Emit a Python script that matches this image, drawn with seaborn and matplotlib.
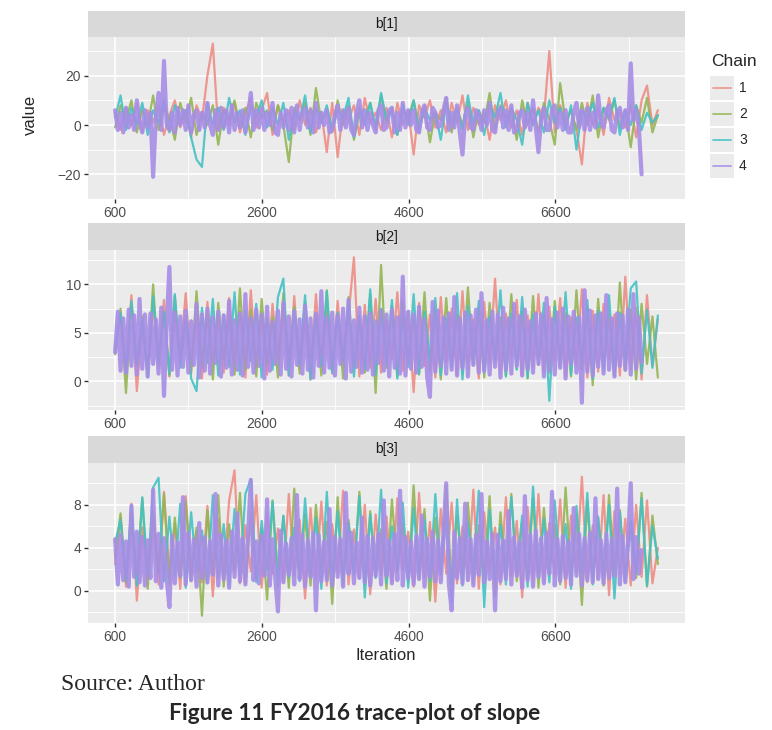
import numpy as np
import pandas as pd
import matplotlib
matplotlib.use('Agg')
import matplotlib.pyplot as plt
import seaborn as sns
from matplotlib.lines import Line2D
from matplotlib.patches import Rectangle

# trace values, one list per chain and slope.
# chains 1-3 are read every 74 iterations, chain 4 (drawn on top) every 37
b1_chain1 = [5, -2, 7, 0, 9, -3, 6, 1, 8, -4,
             4, 10, -1, 6, -5, 8, 2, 20, 33, -2,
             7, 0, 9, -3, 5, 11, -1, 6, 13, -4,
             8, 1, 6, -2, 10, 0, 7, -3, 5, -11,
             9, -13, 6, 2, 8, -4, 11, 1, 5, -2,
             7, -5, 9, 0, 6, -12, 8, 3, 10, -1,
             6, -3, 9, 1, 12, -2, 7, 0, 5, -6,
             8, 2, 10, -1, 6, -4, 9, 0, 7, 3,
             30, -3, 8, 1, 6, -2, -16, 9, 0, 7,
             -4, 11, 2, 6, -1, 8, -5, 10, 16, 0, 6]
b1_chain2 = [-1, 8, 2, 10, -3, 6, 0, 12, -2, 7,
             3, -6, 9, 1, 11, -4, 5, 0, 8, -8,
             6, 2, 10, -1, 7, -5, 9, 3, 6, -2,
             8, 0, -15, 7, 2, 9, -4, 15, 1, 6,
             -3, 10, 0, 8, -6, 5, 2, 9, -2, 12,
             1, 7, -4, 6, 3, 10, -1, 8, -7, 5,
             2, 11, -3, 7, 0, 9, -5, 6, 1, 13,
             -2, 8, 3, 6, -6, 10, 0, 7, -3, 9,
             2, -8, 17, 1, 6, -2, 9, 0, 12, -5,
             7, 2, 10, -1, 6, -9, 8, 1, 11, -3, 4]
b1_chain3 = [3, 12, -2, 7, 0, 9, -4, 6, 1, 10,
             -3, 8, 2, 6, -5, -14, -17, 9, 0, 7,
             -2, 11, 1, 6, -4, 8, 3, 10, -1, 7,
             0, 9, -6, 5, 2, 12, -3, 7, 1, 8,
             -2, 6, 3, 11, -5, 7, 0, 9, -1, 13,
             2, 6, -4, 8, 0, 10, -3, 7, 2, 5,
             -6, 9, 1, 7, -2, 12, 0, 6, -4, 8,
             3, 13, -1, 7, 2, -8, 9, 0, 6, -3,
             10, 1, 7, -2, 8, -10, 6, 2, 9, -1,
             7, 3, 11, -4, 6, 0, 8, -2, 5, 1, 4]
b1_chain4 = [6, -2, 5, -3, 7, -1, 4, -2, 10, 1,
             -3, 6, -1, 5, -21, 3, 13, -2, 26, 0,
             -2, 5, -3, 7, 0, 6, -2, 8, -3, 4,
             6, -2, 5, -1, 9, 0, -4, 6, -2, 7,
             -1, 6, -3, 8, -2, 5, -1, 6, -3, 4,
             13, -2, 6, -1, 7, -2, 5, 0, 9, -3,
             -4, 5, -1, 6, -2, 7, -3, 8, -2, 5,
             7, -1, 6, -3, 9, -1, 5, 0, 6, -3,
             -2, 4, 8, -2, 6, -1, 7, -2, -4, 5,
             10, -1, 6, -2, 5, 0, -3, 6, 8, -2,
             -1, 6, 7, -3, 5, -2, 9, -1, 6, 0,
             6, -2, -3, 5, 8, -1, -2, 7, 5, -1,
             0, 6, 11, -2, 5, -1, 8, -3, -12, 4,
             7, -1, -2, 6, 4, -2, 6, 0, 9, -2,
             -3, 5, 7, -1, 6, -2, 8, -3, -2, 5,
             6, -1, 5, -2, 10, -1, -11, 3, 7, -2,
             -2, 6, 8, -1, 5, -2, 6, -3, -3, 5,
             9, -1, 6, -2, 7, -2, 5, -1, 12, 1,
             -1, 6, 8, -2, -3, 5, 7, -1, 6, -2,
             25, 2, 6, -1, -20]

b2_chain1 = [3.2, 7.1, 1.0, 8.9, -1.0, 6.2, 0.8, 7.8, 2.1, 8.4,
             0.5, 6.6, 2.4, 9.1, 1.2, 7.0, 0.3, 8.2, 1.9, 6.8,
             0.9, 8.6, 2.6, 7.3, 0.4, 9.4, 1.5, 6.9, 0.7, 8.0,
             2.2, 7.6, 0.6, 8.8, 1.3, 6.5, 0.2, 9.0, 1.8, 7.4,
             0.8, 8.3, 2.0, 6.7, 12.8, 0.5, 7.9, 1.4, 8.5, 0.9,
             6.3, 2.3, 9.2, 1.1, 7.2, -1.1, 8.1, 1.6, 6.9, 0.4,
             8.7, 2.0, 7.5, 0.7, 9.3, 1.2, 6.4, 0.3, 8.2, 1.9,
             10.6, 0.8, 7.0, 2.5, 8.4, 0.6, 6.8, 1.5, 9.0, 0.9,
             7.7, 2.1, 8.6, 0.5, 6.6, 1.7, 9.5, 0.4, 7.3, 1.0,
             8.0, 2.2, 6.9, 0.6, 10.8, 1.3, 7.6, 0.2, 8.9, 1.6, 6.4]
b2_chain2 = [2.8, 7.5, -1.2, 8.0, 1.6, 6.7, 0.9, 10.0, 1.4, 7.2,
             0.6, 8.8, 2.0, 6.5, 0.8, 9.3, 1.5, 7.1, 0.2, 8.1,
             2.3, 6.8, 0.7, 9.6, 1.2, 7.4, 0.5, 8.5, 1.8, 6.6,
             0.4, 9.1, 1.9, 7.7, 0.8, 8.2, 2.1, 6.9, 0.6, 9.4,
             1.3, 7.0, 0.3, 8.7, 1.7, 6.5, 0.9, 9.0, -1.2, 12.0,
             1.4, 7.8, 0.5, 8.4, 2.2, 6.7, 0.7, 9.2, 1.1, 7.3,
             0.2, 8.6, 1.6, 6.9, 0.8, 9.7, 1.9, 7.5, 0.4, 8.1,
             2.0, 6.6, 0.6, 9.0, 1.3, 7.2, 0.3, 8.8, 1.7, 6.8,
             0.9, 8.3, 2.1, 7.0, 0.5, 9.4, 1.2, 7.6, -0.4, 8.5,
             1.5, 6.9, 0.7, 10.2, 1.1, 7.4, 0.2, 8.0, 1.8, 6.7, 0.4]
b2_chain3 = [3.5, 7.0, 0.9, 8.3, 1.7, 6.4, 0.5, 8.8, 2.0, 7.1,
             0.8, 9.0, 1.4, 6.8, 0.3, -1.0, 7.6, 1.9, 8.5, 0.6,
             6.9, 1.5, 9.2, 0.7, 7.3, 2.1, 8.0, 0.4, 6.6, 1.2,
             8.7, 10.6, 0.6, 7.4, 1.8, 8.9, 0.2, 6.7, 1.6, 9.3,
             0.9, 7.1, 2.2, 8.2, 0.5, 6.8, 1.3, 9.5, 0.7, 7.5,
             1.9, 8.4, 0.3, 6.9, 1.5, 9.0, 0.8, 7.2, 2.0, 8.6,
             0.6, 6.5, 1.4, 9.1, 0.2, 7.8, 1.7, 8.3, 0.9, 6.7,
             2.1, 9.4, 0.5, 7.0, 1.2, 8.7, 0.4, 6.9, 1.8, 8.1,
             -2.0, 7.7, 1.5, 9.2, 0.7, 6.6, 2.0, 8.4, 0.3, 7.3,
             1.1, 8.9, 0.6, 7.1, 1.9, 9.6, 10.3, 0.8, 7.4, 1.4, 6.8]
b2_chain4 = [3.0, 7.2, 1.1, 6.5, 0.9, 7.4, 1.6, 6.8, 0.7, 8.5,
             1.3, 6.9, 0.5, 7.0, 1.8, 6.4, 0.8, 7.6, -1.5, 5.9,
             11.8, 1.2, 7.1, 0.6, 6.7, 1.5, 7.3, 0.9, 6.2, 1.7,
             8.0, 0.4, 6.9, 1.1, 7.5, 0.8, 6.6, 1.9, 7.2, 0.5,
             6.8, 1.4, 8.3, 0.7, 6.3, 1.2, 7.0, 0.6, 9.0, 1.5,
             6.5, 0.9, 7.4, 1.6, 6.9, 0.3, 7.7, 1.1, 6.1, 1.8,
             7.3, 0.7, 8.1, 1.3, 6.7, 0.5, 7.2, 1.7, 6.4, 0.8,
             7.8, 1.2, 6.5, 0.4, 7.0, 1.6, 9.3, 0.9, 6.6, 1.4,
             7.1, 0.6, 6.8, 1.8, 7.5, 0.3, 8.4, 1.0, 6.3, 1.5,
             7.6, 0.9, 6.7, 1.2, 7.0, 0.7, 6.2, 1.9, 7.3, 1.1,
             6.9, 0.5, 7.4, 1.4, 6.6, 0.8, 10.8, 0.6, 7.2, 1.3,
             6.9, 0.9, 7.7, 1.5, 6.4, 0.4, -1.6, 8.2, 1.0, 7.3,
             1.6, 6.6, 0.8, 7.0, 1.2, 8.7, 0.6, 6.5, 1.4, 7.1,
             0.5, 6.8, 1.7, 7.4, 0.9, 9.1, 1.1, 6.3, 0.7, 7.2,
             1.5, 6.9, 0.4, 7.6, 1.2, 6.5, 0.8, 8.0, 1.6, 6.7,
             0.6, 7.4, 1.3, 6.2, 0.9, 7.0, 1.8, 6.9, 0.5, 8.6,
             1.1, 6.4, 0.7, 7.1, 1.4, 7.5, 0.3, 6.7, 1.8, 7.2,
             0.9, 6.6, -2.2, 9.4, 1.0, 7.3, 0.6, 6.8, 1.5, 7.0,
             0.8, 8.9, 1.2, 6.5, 0.5, 7.0, 1.6, 6.8, 1.2, 7.4,
             0.7, 9.0, 1.3, 6.6, 2.0]

b3_chain1 = [2.5, 6.8, 0.4, 8.1, -0.9, 5.9, 1.2, 7.4, 0.6, 9.2,
             1.5, 6.3, 0.2, 8.8, 1.9, 5.6, 0.8, 7.9, -0.5, 6.7,
             1.3, 8.4, 11.2, 0.7, 6.1, 1.8, 8.9, 0.3, 7.2, 1.6,
             5.8, 0.9, 9.0, 1.4, 6.6, -0.7, 7.7, 1.1, 8.3, 0.5,
             6.2, 1.7, 9.3, 0.6, 5.7, 1.2, 8.0, -0.3, 7.1, 1.5,
             6.9, 0.8, 8.6, 1.9, 5.5, 0.4, 9.1, 1.3, 6.4, -1.0,
             7.6, 1.6, 8.2, 0.7, 6.0, 1.1, 9.4, 0.2, 7.3, 1.8,
             5.9, 0.6, 8.7, 1.4, 6.5, -0.6, 7.8, 1.0, 9.0, 0.9,
             6.3, 1.5, 8.5, 0.3, 7.0, 1.7, 10.6, 0.8, 6.1, 1.2,
             8.9, -0.4, 7.4, 1.6, 6.7, 0.5, 8.0, 1.3, 8.4, 0.7, 4.0]
b3_chain2 = [3.1, 7.2, 0.8, 6.5, 1.4, 8.6, 0.2, 7.0, 1.7, 9.0,
             0.6, 6.8, 1.2, 8.3, 0.9, 5.9, -2.3, 7.5, 1.5, 8.9,
             0.4, 6.2, 1.8, 9.1, 0.7, 7.3, 1.1, 5.8, -0.8, 8.4,
             1.6, 6.9, 0.3, 9.5, 1.3, 7.1, 0.5, 8.0, 1.9, 6.4,
             -1.2, 8.7, 1.0, 6.6, 1.7, 9.2, 0.6, 7.4, 1.4, 5.7,
             0.2, 8.5, 1.8, 6.3, 0.8, 9.8, 1.2, 7.6, -0.9, 6.8,
             1.5, 9.8, 0.4, 7.0, 1.9, 8.2, 0.7, 6.1, 1.3, 8.8,
             -0.5, 7.3, 1.6, 9.0, 0.9, 6.5, 1.1, 8.6, 0.3, 7.7,
             1.8, 6.2, 0.6, 9.6, 1.4, 7.1, -1.3, 8.3, 1.0, 6.7,
             0.5, 8.9, 1.7, 7.5, 0.8, 6.4, 1.2, 9.1, 0.4, 7.0, 2.5]
b3_chain3 = [4.5, 6.6, 1.1, 7.8, 0.5, 8.7, 1.6, 9.6, 10.5, 0.9,
             6.9, 1.4, 8.1, 0.3, 7.3, 1.8, 5.6, 0.7, 8.9, 1.2,
             6.2, 0.6, 7.6, 1.5, 9.0, 10.4, 0.8, 6.5, 1.9, 8.3,
             0.4, 7.0, 1.3, 5.9, 0.9, 8.6, 1.7, 6.8, 0.2, 9.2,
             1.0, 7.4, 0.6, 6.3, 1.5, 8.8, -0.6, 7.1, 1.2, 9.4,
             0.7, 6.0, 1.8, 8.2, 0.3, 7.7, 1.4, 6.6, 0.9, 9.0,
             1.6, 7.2, -1.1, 8.5, 0.5, 6.4, 1.3, 9.3, -1.5, 7.5,
             1.1, 6.1, 0.6, 8.7, 1.9, 7.0, 0.4, 9.7, 1.2, 6.7,
             0.8, 8.4, 1.5, 6.2, 0.2, 7.9, 1.7, 9.1, 0.6, 6.9,
             1.4, 8.0, -0.7, 7.3, 1.0, 6.5, 1.8, 8.6, 0.5, 6.0, 3.0]
b3_chain4 = [4.8, 0.6, 5.2, 1.0, 4.6, 0.4, 7.9, 1.3, 5.5, 0.8,
             5.0, 0.5, 4.7, 1.2, 9.4, 0.9, 5.3, 0.3, 4.9, 1.1,
             -1.5, 5.1, 0.7, 4.5, 1.4, 8.7, 0.6, 5.4, 1.0, 4.8,
             0.4, 6.3, 1.2, 5.0, 0.8, 4.6, 1.5, 9.0, 0.5, 5.2,
             1.1, 4.7, 0.3, 5.5, 1.3, 7.2, 0.9, 4.9, 0.6, 5.3,
             10.3, 1.0, 4.6, 0.7, 5.1, 1.4, 8.5, 0.5, 4.8, 1.2,
             -1.9, 5.6, 0.8, 4.4, 1.5, 4.9, 0.6, 8.9, 1.1, 5.2,
             0.4, 4.7, 1.3, 5.4, -1.8, 5.2, 0.9, 4.6, 1.0, 7.6,
             0.5, 5.0, 1.3, 4.8, 0.4, 9.1, 1.6, 5.4, 0.7, 4.5,
             1.2, 6.8, 0.8, 5.1, 0.5, 4.9, 1.4, 5.3, 0.6, 8.4,
             1.4, 4.7, 0.7, 5.3, 1.0, 9.3, 0.5, 5.0, 1.2, 4.6,
             0.6, 5.1, 1.1, 7.0, 0.4, 4.8, 1.3, 5.5, 0.9, 4.7,
             0.8, 5.4, 10.0, 0.6, -1.8, 5.5, 1.2, 4.9, 0.7, 8.1,
             1.0, 4.8, 0.5, 5.2, 1.5, 9.0, 0.8, 4.6, 1.1, 5.3,
             -1.8, 5.2, 0.9, 4.7, 1.1, 7.4, 0.6, 5.0, 1.4, 4.5,
             0.3, 8.8, 1.0, 5.2, 0.4, 5.6, 1.3, 4.9, 0.7, 5.4,
             1.6, 9.2, 0.5, 4.8, 0.9, 5.1, 1.2, 4.6, 0.6, 7.7,
             1.4, 5.3, 0.5, 4.9, 1.0, 5.4, 0.8, 8.6, 1.1, 4.7,
             0.7, 5.3, 1.2, 4.8, 1.4, 9.5, 0.6, 5.1, 0.8, 4.6,
             10.0, 1.1, 5.0, 1.6, 3.8]

params = ['b[1]', 'b[2]', 'b[3]']
chains = ['1', '2', '3', '4']
traces = {
    'b[1]': [b1_chain1, b1_chain2, b1_chain3, b1_chain4],
    'b[2]': [b2_chain1, b2_chain2, b2_chain3, b2_chain4],
    'b[3]': [b3_chain1, b3_chain2, b3_chain3, b3_chain4],
}
first_iter = 600
thin = {'1': 74, '2': 74, '3': 74, '4': 37}
x_ticks = [600, 2600, 4600, 6600]
y_ticks = {'b[1]': [-20, 0, 20], 'b[2]': [0, 5, 10], 'b[3]': [0, 4, 8]}

colors = {'1': '#EE8D85', '2': '#93B553', '3': '#45C1C3', '4': '#A78DE6'}
widths = {'1': 1.6, '2': 1.6, '3': 1.6, '4': 3.0}

rows = []
for p in params:
    for c, vals in zip(chains, traces[p]):
        for i, v in enumerate(vals):
            rows.append((p, c, first_iter + thin[c] * i, v))
df = pd.DataFrame(rows, columns=['param', 'Chain', 'Iteration', 'value'])

sns.set_theme(style='white')
plt.rcParams['font.family'] = ['Liberation Sans', 'DejaVu Sans']

W, H = 772, 730
fig = plt.figure(figsize=(W / 100, H / 100), dpi=100)

# panel boxes in pixels: (top of strip, top of panel, bottom of panel)
boxes = [(11, 37, 199), (223, 250, 410), (436, 463, 623)]
left, right = 88, 685

xmin, xmax = df['Iteration'].min(), df['Iteration'].max()
xpad = 0.05 * (xmax - xmin)

for p, (st, pt, pb) in zip(params, boxes):
    ax = fig.add_axes([left / W, 1 - pb / H, (right - left) / W, (pb - pt) / H])
    sub = df[df['param'] == p]
    for c in chains:
        sns.lineplot(data=sub[sub['Chain'] == c], x='Iteration', y='value',
                     color=colors[c], estimator=None, sort=False,
                     linewidth=widths[c], alpha=0.9, legend=False, ax=ax)
    ax.set_facecolor('#EBEBEB')
    for s in ax.spines.values():
        s.set_visible(False)
    ymin, ymax = sub['value'].min(), sub['value'].max()
    ypad = 0.05 * (ymax - ymin)
    ax.set_xlim(xmin - xpad, xmax + xpad)
    ax.set_ylim(ymin - ypad, ymax + ypad)
    yt = y_ticks[p]
    ax.set_xticks(x_ticks)
    ax.set_xticks([t + 1000 for t in x_ticks], minor=True)
    ax.set_yticks(yt)
    step = yt[1] - yt[0]
    ax.set_yticks([t + step / 2 for t in [yt[0] - step] + yt], minor=True)
    ax.grid(True, which='major', color='white', linewidth=1.2)
    ax.grid(True, which='minor', color='white', linewidth=0.6)
    ax.set_axisbelow(True)
    ax.tick_params(which='major', length=3, width=1, color='#333333',
                   labelsize=9.9, labelcolor='#4D4D4D', pad=2, left=True, bottom=True)
    ax.tick_params(which='minor', length=0)
    ax.set_xlabel('')
    ax.set_ylabel('')

    sax = fig.add_axes([left / W, 1 - pt / H, (right - left) / W, (pt - st) / H])
    sax.set_facecolor('#D9D9D9')
    sax.set_xticks([])
    sax.set_yticks([])
    for s in sax.spines.values():
        s.set_visible(False)
    sax.text(0.5, 0.5, p, ha='center', va='center', fontsize=9.9, color='#1A1A1A',
             transform=sax.transAxes)

fig.text(30 / W, 1 - 115 / H, 'value', rotation=90, ha='center', va='center', fontsize=12)
fig.text(386 / W, 1 - 655 / H, 'Iteration', ha='center', va='center', fontsize=12)

# legend
fig.text(711 / W, 1 - 62 / H, 'Chain', ha='left', va='center', fontsize=12.5)
for k, c in enumerate(chains):
    yc = 88 + 26 * k
    fig.add_artist(Rectangle((710 / W, 1 - (yc + 12) / H), 24 / W, 24 / H,
                             transform=fig.transFigure, facecolor='#EBEBEB', edgecolor='none'))
    fig.add_artist(Line2D([713 / W, 731 / W], [1 - yc / H, 1 - yc / H],
                          transform=fig.transFigure, color=colors[c], alpha=0.85, linewidth=1.3))
    fig.text(739 / W, 1 - yc / H, c, ha='left', va='center', fontsize=10)

fig.text(61 / W, 1 - 684 / H, 'Source: Author', ha='left', va='center', fontsize=17,
         family=['Liberation Serif', 'DejaVu Serif'])
fig.text(355 / W, 1 - 713 / H, 'Figure 11 FY2016 trace-plot of slope', ha='center', va='center',
         fontsize=16.3, fontweight='bold', family=['Lato', 'DejaVu Sans'])

fig.savefig('out.png', dpi=100)
